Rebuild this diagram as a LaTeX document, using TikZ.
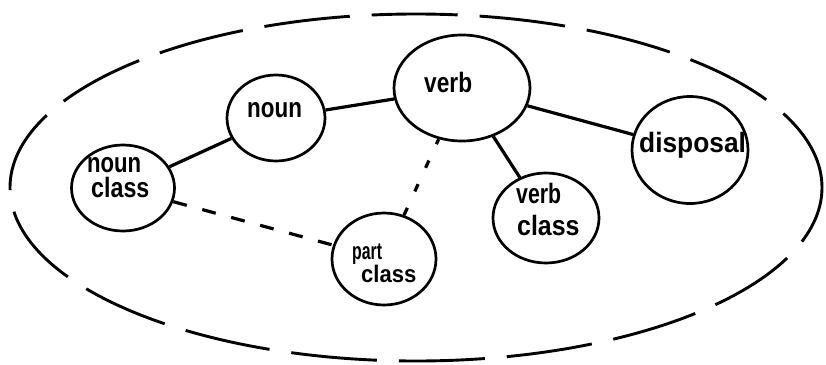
\documentclass[tikz,border=0pt]{standalone}
\usepackage{fontspec}
\setmainfont{Liberation Sans}
\usetikzlibrary{shapes.geometric}
\tikzset{
  concept/.style={ellipse, draw, line width=2.7pt, inner sep=0pt},
  lbl/.style={inner sep=0pt, anchor=base west, font=\fontsize{28}{28}\selectfont\bfseries},
  slbl/.style={inner sep=0pt, anchor=base west, font=\fontsize{24}{24}\selectfont\bfseries},
  link/.style={line width=3.2pt},
  dlink/.style={line width=3.2pt, dash pattern=on 14pt off 16pt},
  plink/.style={line width=3.2pt, dash pattern=on 8pt off 18pt},
  outerring/.style={ellipse, draw, line width=2.9pt, inner sep=0pt, dash pattern=on 86pt off 22pt}
}
\begin{document}
\begin{tikzpicture}[x=1pt, y=-1pt]
\useasboundingbox (0,0) rectangle (826,364);
\node[outerring, minimum width=812pt, minimum height=347pt] (dom) at (416,187.5) {};
\node[concept, minimum width=98pt, minimum height=86pt] (noun) at (276,118) {};
\node[concept, minimum width=103pt, minimum height=86pt] (nclass) at (123,188) {};
\node[concept, minimum width=136pt, minimum height=106pt] (verb) at (462,88) {};
\node[concept, minimum width=116pt, minimum height=107pt] (disp) at (690,150) {};
\node[concept, minimum width=106pt, minimum height=90pt] (vclass) at (546,218) {};
\node[concept, minimum width=104pt, minimum height=92pt] (pclass) at (384,259) {};
\draw[link] (nclass) -- (noun);
\draw[link] (noun) -- (verb);
\draw[link] (verb) -- (disp);
\draw[link] (verb) -- (vclass);
\draw[dlink] (nclass) -- (pclass);
\draw[plink] (pclass) -- (verb);
\node[lbl] (tnoun) at (247,117) {\scalebox{0.80}[1]{noun}};
\node[lbl] (tnc1) at (87,172) {\scalebox{0.79}[1]{noun}};
\node[lbl] (tnc2) at (91,197) {\scalebox{0.83}[1]{class}};
\node[lbl] (tverb) at (424,92) {\scalebox{0.81}[1]{verb}};
\node[lbl] (tdisp) at (639,152) {\scalebox{0.94}[1]{disposal}};
\node[lbl] (tvc1) at (516,203) {\scalebox{0.76}[1]{verb}};
\node[lbl] (tvc2) at (517,235) {\scalebox{0.89}[1]{class}};
\node[slbl] (tpc1) at (352,259) {\scalebox{0.66}[1]{part}};
\node[slbl] (tpc2) at (361,282) {\scalebox{0.92}[1]{class}};
\end{tikzpicture}
\end{document}
